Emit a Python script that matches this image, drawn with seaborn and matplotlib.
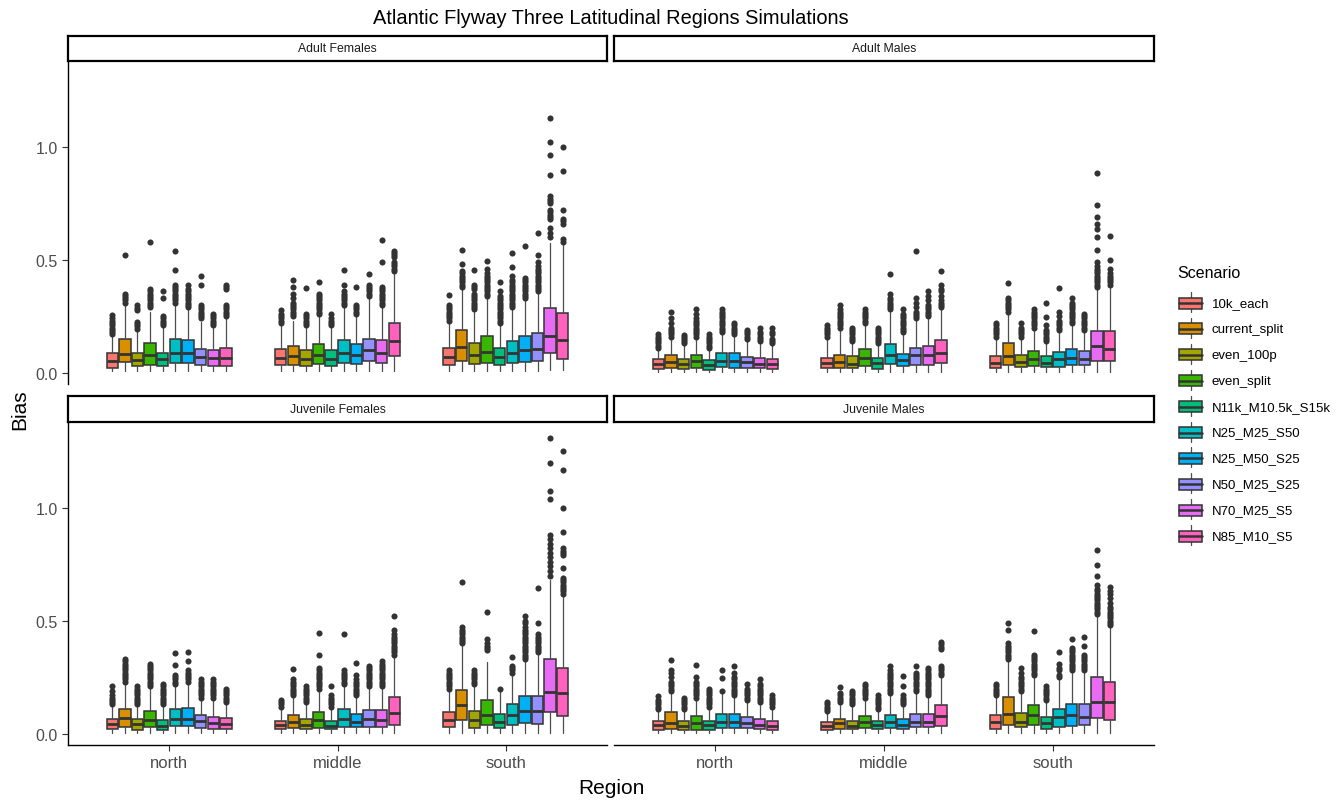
import matplotlib
matplotlib.use("Agg")
import matplotlib.pyplot as plt
import seaborn as sns
from matplotlib.patches import Rectangle

sns.set_theme(style="ticks")
plt.rcParams['font.family'] = ['Liberation Sans', 'DejaVu Sans']

# ---------------- data ----------------
SCENARIOS = ["10k_each", "current_split", "even_100p", "even_split", "N11k_M10.5k_S15k",
             "N25_M25_S50", "N25_M50_S25", "N50_M25_S25", "N70_M25_S5", "N85_M10_S5"]
REGIONS = ["north", "middle", "south"]
FACETS = ["Adult Females", "Adult Males", "Juvenile Females", "Juvenile Males"]
HUE = ["#F8766D", "#D89000", "#A3A500", "#39B600", "#00BF7D",
       "#00BFC4", "#00B0F6", "#9590FF", "#E76BF3", "#FF62BC"]
YTICKS = [0.0, 0.5, 1.0]
YTICKLABELS = ["0.0", "0.5", "1.0"]

# ---- Adult Females ----
AF_LO = {"north": [0.006] * 10, "middle": [0.006] * 10,
         "south": [0.006, 0.008, 0.006, 0.006, 0.006, 0.006, 0.008, 0.008, 0.010, 0.010]}
AF_Q1 = {"north": [0.022, 0.047, 0.030, 0.032, 0.030, 0.044, 0.044, 0.032, 0.030, 0.030],
         "middle": [0.032, 0.032, 0.029, 0.038, 0.029, 0.043, 0.038, 0.052, 0.043, 0.074],
         "south": [0.032, 0.053, 0.037, 0.044, 0.032, 0.043, 0.047, 0.052, 0.087, 0.062]}
AF_MED = {"north": [0.052, 0.081, 0.057, 0.077, 0.060, 0.088, 0.088, 0.069, 0.065, 0.065],
          "middle": [0.065, 0.074, 0.059, 0.077, 0.059, 0.088, 0.077, 0.099, 0.088, 0.139],
          "south": [0.068, 0.114, 0.080, 0.091, 0.068, 0.085, 0.099, 0.103, 0.161, 0.146]}
AF_Q3 = {"north": [0.085, 0.150, 0.085, 0.131, 0.085, 0.150, 0.146, 0.106, 0.102, 0.111],
         "middle": [0.106, 0.117, 0.099, 0.125, 0.099, 0.146, 0.125, 0.150, 0.146, 0.221],
         "south": [0.109, 0.187, 0.131, 0.161, 0.108, 0.142, 0.161, 0.175, 0.286, 0.264]}
AF_HI = {"north": [0.165, 0.300, 0.187, 0.270, 0.210, 0.305, 0.283, 0.225, 0.200, 0.240],
         "middle": [0.210, 0.230, 0.210, 0.254, 0.200, 0.300, 0.254, 0.335, 0.290, 0.438],
         "south": [0.224, 0.372, 0.268, 0.335, 0.210, 0.283, 0.320, 0.353, 0.575, 0.563]}
AF_OUT = {
    "north": [[0.17, 0.18, 0.19, 0.20, 0.21, 0.22, 0.23, 0.24, 0.257],
              [0.31, 0.32, 0.33, 0.34, 0.35, 0.52],
              [0.195, 0.205, 0.215, 0.224, 0.276, 0.287, 0.298],
              [0.29, 0.30, 0.31, 0.32, 0.33, 0.34, 0.35, 0.36, 0.37, 0.58],
              [0.21, 0.22, 0.23, 0.24, 0.25, 0.33, 0.36],
              [0.31, 0.32, 0.33, 0.34, 0.35, 0.36, 0.37, 0.38, 0.39, 0.455, 0.54],
              [0.29, 0.30, 0.31, 0.32, 0.33, 0.34, 0.35, 0.36, 0.37, 0.39],
              [0.24, 0.25, 0.26, 0.27, 0.28, 0.29, 0.30, 0.386, 0.43],
              [0.21, 0.22, 0.23, 0.24, 0.25, 0.26],
              [0.25, 0.26, 0.27, 0.28, 0.29, 0.30, 0.37, 0.38, 0.39]],
    "middle": [[0.22, 0.23, 0.24, 0.25, 0.26, 0.276],
               [0.25, 0.26, 0.27, 0.28, 0.29, 0.30, 0.31, 0.33, 0.35, 0.38, 0.41],
               [0.21, 0.22, 0.23, 0.24, 0.25, 0.26, 0.375],
               [0.26, 0.27, 0.28, 0.29, 0.30, 0.31, 0.32, 0.33, 0.34, 0.35, 0.40],
               [0.21, 0.22, 0.23, 0.24, 0.26],
               [0.30, 0.31, 0.32, 0.33, 0.34, 0.35, 0.36, 0.39, 0.455],
               [0.26, 0.27, 0.28, 0.29, 0.30, 0.38],
               [0.34, 0.35, 0.36, 0.37, 0.38, 0.39, 0.438],
               [0.30, 0.31, 0.32, 0.33, 0.34, 0.35, 0.36, 0.37, 0.38, 0.49, 0.589],
               [0.45, 0.46, 0.47, 0.48, 0.49, 0.51, 0.52, 0.53, 0.54]],
    "south": [[0.23, 0.24, 0.25, 0.26, 0.27, 0.28, 0.29, 0.30, 0.345],
              [0.38, 0.39, 0.40, 0.41, 0.42, 0.43, 0.44, 0.45, 0.482, 0.541],
              [0.28, 0.29, 0.30, 0.31, 0.32, 0.33, 0.34, 0.35, 0.37, 0.38, 0.39, 0.453],
              [0.34, 0.35, 0.36, 0.37, 0.38, 0.39, 0.40, 0.41, 0.42, 0.43, 0.44, 0.46, 0.494],
              [0.22, 0.23, 0.24, 0.25, 0.26, 0.27, 0.28, 0.29, 0.30, 0.31, 0.32, 0.33, 0.34, 0.36, 0.40],
              [0.29, 0.30, 0.31, 0.32, 0.33, 0.34, 0.35, 0.36, 0.37, 0.38, 0.39, 0.40, 0.41, 0.43, 0.468, 0.53],
              [0.33, 0.34, 0.35, 0.36, 0.37, 0.38, 0.39, 0.40, 0.41, 0.42, 0.56],
              [0.36, 0.37, 0.38, 0.39, 0.40, 0.41, 0.42, 0.43, 0.44, 0.45, 0.46, 0.47, 0.49, 0.523, 0.618],
              [0.60, 0.62, 0.64, 0.68, 0.69, 0.70, 0.71, 0.72, 0.75, 0.76, 0.77, 0.78, 0.876, 0.965, 1.02, 1.128],
              [0.58, 0.59, 0.66, 0.67, 0.68, 0.72, 0.891, 0.999]]}

# ---- Adult Males ----
AM_LO = {"north": [0.005] * 10, "middle": [0.005] * 10, "south": [0.005] * 10}
AM_Q1 = {"north": [0.018, 0.022, 0.018, 0.022, 0.013, 0.025, 0.022, 0.022, 0.022, 0.018],
         "middle": [0.021, 0.022, 0.022, 0.030, 0.018, 0.037, 0.028, 0.032, 0.032, 0.043],
         "south": [0.022, 0.035, 0.024, 0.028, 0.024, 0.024, 0.032, 0.032, 0.052, 0.052]}
AM_MED = {"north": [0.037, 0.047, 0.037, 0.050, 0.034, 0.050, 0.053, 0.047, 0.037, 0.037],
          "middle": [0.044, 0.047, 0.040, 0.066, 0.044, 0.077, 0.054, 0.077, 0.077, 0.088],
          "south": [0.044, 0.074, 0.047, 0.062, 0.044, 0.059, 0.065, 0.062, 0.118, 0.106]}
AM_Q3 = {"north": [0.059, 0.077, 0.062, 0.077, 0.056, 0.087, 0.087, 0.069, 0.065, 0.062],
         "middle": [0.066, 0.080, 0.072, 0.106, 0.066, 0.125, 0.084, 0.111, 0.117, 0.146],
         "south": [0.072, 0.131, 0.077, 0.096, 0.072, 0.091, 0.106, 0.096, 0.184, 0.184]}
AM_HI = {"north": [0.106, 0.150, 0.121, 0.150, 0.106, 0.172, 0.165, 0.143, 0.136, 0.121],
         "middle": [0.158, 0.195, 0.136, 0.210, 0.121, 0.268, 0.172, 0.231, 0.239, 0.283],
         "south": [0.150, 0.261, 0.158, 0.195, 0.136, 0.187, 0.210, 0.187, 0.369, 0.375]}
AM_OUT = {
    "north": [[0.11, 0.12, 0.13, 0.14, 0.15, 0.16, 0.17],
              [0.16, 0.17, 0.18, 0.19, 0.20, 0.22, 0.24, 0.27],
              [0.13, 0.14, 0.15, 0.16, 0.165],
              [0.16, 0.17, 0.18, 0.19, 0.20, 0.21, 0.22, 0.23, 0.24, 0.26, 0.28],
              [0.11, 0.12, 0.13, 0.14, 0.15, 0.16, 0.17],
              [0.18, 0.19, 0.20, 0.21, 0.22, 0.23, 0.24, 0.25, 0.26, 0.27, 0.28],
              [0.17, 0.18, 0.19, 0.20, 0.21, 0.22],
              [0.15, 0.16, 0.17, 0.18, 0.19],
              [0.14, 0.15, 0.16, 0.17, 0.18, 0.20],
              [0.13, 0.14, 0.15, 0.17, 0.18, 0.20]],
    "middle": [[0.16, 0.17, 0.18, 0.19, 0.20, 0.21],
               [0.20, 0.21, 0.22, 0.23, 0.24, 0.25, 0.26, 0.27, 0.28, 0.30],
               [0.14, 0.15, 0.16, 0.17, 0.18, 0.19, 0.20],
               [0.22, 0.23, 0.24, 0.25, 0.26, 0.27, 0.28],
               [0.13, 0.14, 0.15, 0.16, 0.17, 0.18, 0.19, 0.20],
               [0.28, 0.29, 0.30, 0.31, 0.32, 0.33, 0.35, 0.438],
               [0.18, 0.19, 0.20, 0.21, 0.22, 0.23, 0.24, 0.25, 0.26, 0.28],
               [0.24, 0.25, 0.26, 0.27, 0.29, 0.31, 0.33, 0.538],
               [0.25, 0.26, 0.27, 0.28, 0.29, 0.30, 0.32, 0.34, 0.36],
               [0.29, 0.30, 0.31, 0.32, 0.34, 0.36, 0.37, 0.39, 0.448]],
    "south": [[0.16, 0.17, 0.18, 0.19, 0.20, 0.21, 0.22],
              [0.27, 0.28, 0.29, 0.30, 0.31, 0.32, 0.33, 0.398],
              [0.16, 0.17, 0.18, 0.19, 0.20, 0.22],
              [0.20, 0.21, 0.22, 0.23, 0.24, 0.25, 0.26, 0.27, 0.28],
              [0.14, 0.15, 0.16, 0.17, 0.18, 0.19, 0.21, 0.246, 0.31],
              [0.19, 0.20, 0.21, 0.22, 0.23, 0.25, 0.27, 0.375],
              [0.22, 0.23, 0.24, 0.25, 0.26, 0.27, 0.28, 0.29, 0.30, 0.31, 0.33],
              [0.19, 0.20, 0.21, 0.22, 0.23, 0.24, 0.25, 0.26],
              [0.38, 0.39, 0.40, 0.41, 0.42, 0.43, 0.44, 0.45, 0.46, 0.47, 0.49, 0.544, 0.60, 0.637, 0.66, 0.69, 0.74, 0.885],
              [0.39, 0.40, 0.41, 0.42, 0.43, 0.44, 0.46, 0.50, 0.605]]}

# ---- Juvenile Females ----
JF_LO = {"north": [0.004] * 10, "middle": [0.004] * 10, "south": [0.004] * 10}
JF_Q1 = {"north": [0.021, 0.030, 0.018, 0.030, 0.018, 0.032, 0.032, 0.025, 0.021, 0.021],
         "middle": [0.021, 0.025, 0.021, 0.025, 0.021, 0.030, 0.030, 0.030, 0.030, 0.040],
         "south": [0.030, 0.059, 0.025, 0.037, 0.024, 0.038, 0.047, 0.044, 0.097, 0.080]}
JF_MED = {"north": [0.043, 0.069, 0.043, 0.062, 0.035, 0.066, 0.066, 0.055, 0.047, 0.043],
          "middle": [0.040, 0.052, 0.040, 0.059, 0.035, 0.066, 0.052, 0.066, 0.062, 0.092],
          "south": [0.062, 0.125, 0.062, 0.084, 0.050, 0.081, 0.100, 0.100, 0.184, 0.178]}
JF_Q3 = {"north": [0.066, 0.109, 0.066, 0.099, 0.059, 0.109, 0.112, 0.083, 0.072, 0.068],
         "middle": [0.058, 0.081, 0.066, 0.097, 0.058, 0.109, 0.088, 0.103, 0.103, 0.162],
         "south": [0.096, 0.192, 0.102, 0.150, 0.087, 0.133, 0.167, 0.167, 0.330, 0.290]}
JF_HI = {"north": [0.128, 0.224, 0.128, 0.202, 0.121, 0.217, 0.224, 0.158, 0.150, 0.139],
         "middle": [0.114, 0.165, 0.136, 0.195, 0.114, 0.214, 0.168, 0.209, 0.209, 0.342],
         "south": [0.195, 0.389, 0.217, 0.317, 0.187, 0.265, 0.327, 0.350, 0.681, 0.608]}
JF_OUT = {
    "north": [[0.13, 0.14, 0.15, 0.16, 0.17, 0.19, 0.21],
              [0.23, 0.24, 0.25, 0.26, 0.27, 0.28, 0.29, 0.30, 0.31, 0.32, 0.33],
              [0.13, 0.14, 0.15, 0.16, 0.17, 0.18, 0.19, 0.20, 0.21],
              [0.21, 0.22, 0.23, 0.24, 0.25, 0.26, 0.27, 0.28, 0.29, 0.30, 0.31],
              [0.13, 0.14, 0.15, 0.16, 0.17, 0.18, 0.19, 0.20, 0.21, 0.22],
              [0.22, 0.23, 0.24, 0.25, 0.26, 0.302, 0.357],
              [0.23, 0.24, 0.25, 0.26, 0.27, 0.28, 0.32, 0.361],
              [0.16, 0.17, 0.18, 0.19, 0.20, 0.21, 0.22, 0.23, 0.24],
              [0.16, 0.17, 0.18, 0.19, 0.20, 0.21, 0.22, 0.23, 0.24],
              [0.14, 0.15, 0.16, 0.17, 0.18, 0.19, 0.20]],
    "middle": [[0.12, 0.13, 0.14, 0.15],
               [0.17, 0.18, 0.19, 0.20, 0.21, 0.22, 0.23, 0.24, 0.288],
               [0.14, 0.15, 0.16, 0.17, 0.18, 0.19, 0.20, 0.21],
               [0.20, 0.21, 0.22, 0.23, 0.24, 0.25, 0.26, 0.27, 0.28, 0.29, 0.347, 0.446],
               [0.12, 0.13, 0.14, 0.15, 0.16, 0.17, 0.212],
               [0.22, 0.23, 0.24, 0.25, 0.26, 0.27, 0.28, 0.441],
               [0.17, 0.18, 0.19, 0.20, 0.21, 0.22, 0.23, 0.24, 0.26, 0.313],
               [0.21, 0.22, 0.23, 0.24, 0.25, 0.26, 0.27, 0.28, 0.29, 0.30],
               [0.21, 0.22, 0.23, 0.24, 0.25, 0.26, 0.27, 0.28, 0.29, 0.30, 0.31, 0.32],
               [0.35, 0.36, 0.37, 0.38, 0.39, 0.40, 0.41, 0.42, 0.43, 0.44, 0.46, 0.522]],
    "south": [[0.20, 0.21, 0.22, 0.23, 0.24, 0.25, 0.26, 0.27, 0.28],
              [0.40, 0.41, 0.42, 0.43, 0.44, 0.45, 0.46, 0.47, 0.673],
              [0.22, 0.23, 0.24, 0.25, 0.26, 0.27, 0.28],
              [0.37, 0.38, 0.39, 0.40, 0.42, 0.54],
              [0.20],
              [0.27, 0.28, 0.29, 0.30, 0.338],
              [0.33, 0.34, 0.35, 0.36, 0.37, 0.38, 0.39, 0.40, 0.41, 0.42, 0.43, 0.44, 0.45, 0.46, 0.47, 0.49, 0.50, 0.52],
              [0.36, 0.37, 0.38, 0.39, 0.40, 0.41, 0.42, 0.43, 0.44, 0.49, 0.643],
              [0.70, 0.72, 0.74, 0.76, 0.78, 0.80, 0.82, 0.84, 0.86, 0.88, 1.04, 1.075, 1.199, 1.308],
              [0.62, 0.63, 0.64, 0.65, 0.66, 0.67, 0.68, 0.69, 0.733, 0.79, 0.80, 0.81, 0.822, 0.892, 1.001, 1.168, 1.252]]}

# ---- Juvenile Males ----
JM_LO = {"north": [0.004] * 10, "middle": [0.004] * 10, "south": [0.004] * 10}
JM_Q1 = {"north": [0.018, 0.022, 0.015, 0.018, 0.018, 0.024, 0.024, 0.024, 0.020, 0.018],
         "middle": [0.018, 0.020, 0.020, 0.025, 0.021, 0.025, 0.021, 0.028, 0.028, 0.032],
         "south": [0.022, 0.040, 0.030, 0.040, 0.021, 0.030, 0.035, 0.040, 0.069, 0.062]}
JM_MED = {"north": [0.037, 0.047, 0.035, 0.047, 0.037, 0.052, 0.052, 0.047, 0.040, 0.035],
          "middle": [0.035, 0.047, 0.035, 0.052, 0.037, 0.050, 0.040, 0.052, 0.052, 0.077],
          "south": [0.052, 0.088, 0.052, 0.081, 0.047, 0.072, 0.081, 0.072, 0.140, 0.140]}
JM_Q3 = {"north": [0.056, 0.094, 0.058, 0.077, 0.058, 0.087, 0.087, 0.072, 0.065, 0.058],
         "middle": [0.052, 0.066, 0.058, 0.077, 0.058, 0.081, 0.066, 0.087, 0.087, 0.128],
         "south": [0.081, 0.162, 0.091, 0.128, 0.072, 0.111, 0.133, 0.133, 0.251, 0.231]}
JM_HI = {"north": [0.106, 0.180, 0.106, 0.150, 0.114, 0.180, 0.165, 0.143, 0.136, 0.114],
         "middle": [0.099, 0.136, 0.128, 0.158, 0.106, 0.173, 0.128, 0.180, 0.165, 0.254],
         "south": [0.165, 0.327, 0.180, 0.254, 0.139, 0.239, 0.276, 0.268, 0.527, 0.475]}
JM_OUT = {
    "north": [[0.11, 0.12, 0.13, 0.14, 0.15, 0.165],
              [0.19, 0.20, 0.21, 0.22, 0.23, 0.25, 0.27, 0.28, 0.327],
              [0.11, 0.12, 0.13, 0.14, 0.15, 0.16],
              [0.16, 0.17, 0.18, 0.19, 0.20, 0.21, 0.22, 0.23, 0.25, 0.302],
              [0.12, 0.13, 0.14, 0.15, 0.16, 0.17, 0.18, 0.19, 0.20],
              [0.19, 0.246, 0.283],
              [0.17, 0.18, 0.19, 0.20, 0.21, 0.22, 0.23, 0.24, 0.25, 0.27, 0.30],
              [0.15, 0.16, 0.17, 0.18, 0.19, 0.20, 0.22],
              [0.14, 0.15, 0.16, 0.17, 0.18, 0.19, 0.20, 0.21, 0.22, 0.24],
              [0.12, 0.13, 0.14, 0.15, 0.16, 0.17]],
    "middle": [[0.10, 0.11, 0.12, 0.13, 0.14],
               [0.14, 0.15, 0.16, 0.17, 0.18, 0.205],
               [0.13, 0.14, 0.15, 0.16, 0.17, 0.18, 0.19],
               [0.16, 0.17, 0.18, 0.19, 0.20, 0.21, 0.22],
               [0.11, 0.12, 0.13, 0.14, 0.15, 0.16, 0.17],
               [0.18, 0.19, 0.20, 0.21, 0.22, 0.23, 0.24, 0.25, 0.26, 0.27, 0.28, 0.30],
               [0.13, 0.14, 0.15, 0.16, 0.17, 0.209, 0.254],
               [0.19, 0.20, 0.21, 0.22, 0.23, 0.24, 0.25, 0.26, 0.27, 0.301],
               [0.17, 0.18, 0.19, 0.20, 0.21, 0.22, 0.23, 0.24, 0.25, 0.26, 0.27, 0.28, 0.29],
               [0.26, 0.27, 0.28, 0.29, 0.30, 0.375, 0.385, 0.395, 0.408]],
    "south": [[0.17, 0.18, 0.19, 0.20, 0.21, 0.22],
              [0.33, 0.34, 0.35, 0.36, 0.37, 0.38, 0.39, 0.40, 0.46, 0.49],
              [0.19, 0.20, 0.21, 0.22, 0.23, 0.24, 0.25, 0.27, 0.29],
              [0.26, 0.27, 0.28, 0.29, 0.30, 0.31, 0.32, 0.33, 0.34, 0.35, 0.456],
              [0.15, 0.16, 0.17, 0.18, 0.19, 0.20, 0.21],
              [0.25, 0.26, 0.28, 0.29, 0.31, 0.36],
              [0.28, 0.29, 0.30, 0.31, 0.32, 0.33, 0.34, 0.35, 0.36, 0.37, 0.38, 0.419],
              [0.28, 0.29, 0.30, 0.31, 0.32, 0.33, 0.34, 0.35, 0.39, 0.43],
              [0.53, 0.54, 0.55, 0.56, 0.57, 0.58, 0.59, 0.60, 0.61, 0.62, 0.63, 0.64, 0.66, 0.696, 0.748, 0.811],
              [0.48, 0.49, 0.50, 0.51, 0.52, 0.53, 0.54, 0.55, 0.56, 0.58, 0.60, 0.62, 0.63, 0.65]]}

FACET_DATA = {
    "Adult Females": (AF_LO, AF_Q1, AF_MED, AF_Q3, AF_HI, AF_OUT),
    "Adult Males": (AM_LO, AM_Q1, AM_MED, AM_Q3, AM_HI, AM_OUT),
    "Juvenile Females": (JF_LO, JF_Q1, JF_MED, JF_Q3, JF_HI, JF_OUT),
    "Juvenile Males": (JM_LO, JM_Q1, JM_MED, JM_Q3, JM_HI, JM_OUT),
}

# ---------------- figure ----------------
W, H = 1337, 803
fig = plt.figure(figsize=(W / 100, H / 100), dpi=100)
fig.patch.set_facecolor("white")
palette = sns.color_palette(HUE)

def px_axes(x0, y0, x1, y1, **kw):
    return fig.add_axes([x0 / W, 1 - y1 / H, (x1 - x0) / W, (y1 - y0) / H], **kw)

# layout: (facet, x0, x1, strip_top, strip_bottom, panel_bottom, is_left, is_bottom)
LAYOUT = [
    ("Adult Females", 68, 607, 37, 62, 385, True, False),
    ("Adult Males", 614, 1154, 37, 62, 385, False, False),
    ("Juvenile Females", 68, 607, 397, 423, 746, True, True),
    ("Juvenile Males", 614, 1154, 397, 423, 746, False, True),
]

n = len(SCENARIOS)
dodge = 0.75
slot = dodge / n
box_w = slot * 0.9
TXT = "#4D4D4D"

for facet, x0, x1, st, sb, pb, is_left, is_bottom in LAYOUT:
    lo, q1, med, q3, hi, out = FACET_DATA[facet]
    ax = px_axes(x0, sb + 1, x1, pb)
    ax.set_facecolor("white")
    for r, reg in enumerate(REGIONS):
        stats = []
        for i in range(n):
            stats.append(dict(med=med[reg][i], q1=q1[reg][i], q3=q3[reg][i],
                              whislo=lo[reg][i], whishi=hi[reg][i], fliers=out[reg][i]))
        pos = [r + 1 - dodge / 2 + slot / 2 + i * slot for i in range(n)]
        bp = ax.bxp(stats, positions=pos, widths=box_w, patch_artist=True,
                    showcaps=False, manage_ticks=False,
                    boxprops=dict(linewidth=1.1, edgecolor="#333333"),
                    whiskerprops=dict(color="#4D4D4D", linewidth=0.9),
                    medianprops=dict(color="#333333", linewidth=2.0, solid_capstyle="butt"),
                    flierprops=dict(marker="o", markerfacecolor="#333333",
                                    markeredgecolor="#333333", markeredgewidth=0,
                                    markersize=4.4, linestyle="none"))
        for i, b in enumerate(bp["boxes"]):
            b.set_facecolor(palette[i])
    ax.set_xlim(0.4, 3.6)
    ax.set_ylim(-0.05, 1.375)
    for s in ["top", "right"]:
        ax.spines[s].set_visible(False)
    ax.spines["left"].set_visible(is_left)
    ax.spines["bottom"].set_visible(is_bottom)
    for s in ["left", "bottom"]:
        ax.spines[s].set_color("black")
        ax.spines[s].set_linewidth(1.0)
    ax.tick_params(axis="both", colors="#333333", length=4, width=0.8, labelcolor=TXT)
    if is_left:
        ax.set_yticks(YTICKS)
        ax.set_yticklabels(YTICKLABELS, fontsize=11.5)
    else:
        ax.set_yticks([])
    if is_bottom:
        ax.set_xticks([1, 2, 3])
        ax.set_xticklabels(REGIONS, fontsize=12)
    else:
        ax.set_xticks([])
    ax.set_xlabel("")
    ax.set_ylabel("")

    # strip
    sax = px_axes(x0, st, x1, sb)
    sax.set_xticks([]); sax.set_yticks([])
    sax.set_facecolor("white")
    for s in sax.spines.values():
        s.set_visible(True)
        s.set_color("black")
        s.set_linewidth(1.6)
    sax.text(0.5, 0.5, facet, ha="center", va="center", fontsize=8.8,
             color="#1A1A1A", transform=sax.transAxes)

# titles
fig.text(611 / W, 1 - 18 / H, "Atlantic Flyway Three Latitudinal Regions Simulations",
         ha="center", va="center", fontsize=14.4, color="black")
fig.text(611 / W, 1 - 789 / H, "Region", ha="center", va="center", fontsize=15, color="black")
fig.text(20 / W, 1 - 410 / H, "Bias", ha="center", va="center", rotation=90,
         fontsize=15, color="black")

# legend (drawn in pixel coordinates on an overlay axes)
lax = fig.add_axes([0, 0, 1, 1], zorder=5)
lax.set_xlim(0, W); lax.set_ylim(H, 0)
lax.axis("off")
lax.patch.set_alpha(0)
lax.text(1177, 274, "Scenario", ha="left", va="center", fontsize=11.5, color="black")
for i, name in enumerate(SCENARIOS):
    cy = 304 + i * 25.9
    lax.plot([1190.5, 1190.5], [cy - 11, cy + 9], color="#4D4D4D", lw=0.9, zorder=1)
    lax.add_patch(Rectangle((1179, cy - 5.5), 23, 11, facecolor=palette[i],
                            edgecolor="#333333", lw=1.1, zorder=2))
    lax.plot([1179, 1202], [cy, cy], color="#333333", lw=1.8, zorder=3)
    lax.text(1212, cy, name, ha="left", va="center", fontsize=9.5, color="black")

fig.savefig("out.png", dpi=100, facecolor="white")
